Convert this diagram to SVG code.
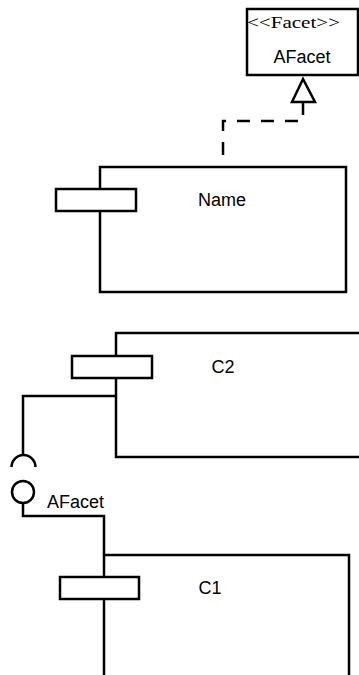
<svg xmlns="http://www.w3.org/2000/svg" width="359" height="675" viewBox="0 0 359 675">
<style>
.box{fill:#fff;stroke:#000;stroke-width:2.5}
.ln{fill:none;stroke:#000;stroke-width:2.5}
.dash{fill:none;stroke:#000;stroke-width:2.5;stroke-dasharray:13 11}
.t{font-family:"Liberation Sans",Arial,sans-serif;font-size:18px;fill:#000}
.st{font-family:"Liberation Serif","Times New Roman",serif;font-size:16px;fill:#000}
</style>
<g id="connectors">
<path class="dash" d="M303,102 V121 H223 V155"/>
<polygon points="303,79 292,102 315,102" fill="#fff" stroke="#000" stroke-width="2.5"/>
<path class="ln" d="M116,396 H23 V455"/>
<path class="ln" d="M11.5,467 A12,12 0 0 1 35.5,467"/>
<circle cx="23" cy="492" r="11" fill="#fff" stroke="#000" stroke-width="2.5"/>
<path class="ln" d="M23,503 V516 H104 V555"/>
<text class="t" x="47" y="508" font-size="16">AFacet</text>
</g>
<g id="AFacet">
<rect class="box" x="247" y="9" width="111" height="66"/>
<text class="st" x="247" y="28" textLength="93" lengthAdjust="spacingAndGlyphs">&lt;&lt;Facet&gt;&gt;</text>
<text class="t" x="302" y="63" text-anchor="middle" font-size="19">AFacet</text>
</g>
<g id="Name">
<rect class="box" x="100" y="167" width="246" height="125"/>
<rect class="box" x="56" y="189" width="80" height="22"/>
<text class="t" x="222" y="206" text-anchor="middle">Name</text>
</g>
<g id="C2">
<path class="ln" d="M361,333 H116 V457 H361"/>
<rect class="box" x="72" y="356" width="80" height="22"/>
<text class="t" x="223" y="373" text-anchor="middle">C2</text>
</g>
<g id="C1">
<path class="ln" d="M104,680 V555 H349 V680"/>
<rect class="box" x="60" y="577" width="79" height="22"/>
<text class="t" x="210" y="594" text-anchor="middle">C1</text>
</g>
</svg>
